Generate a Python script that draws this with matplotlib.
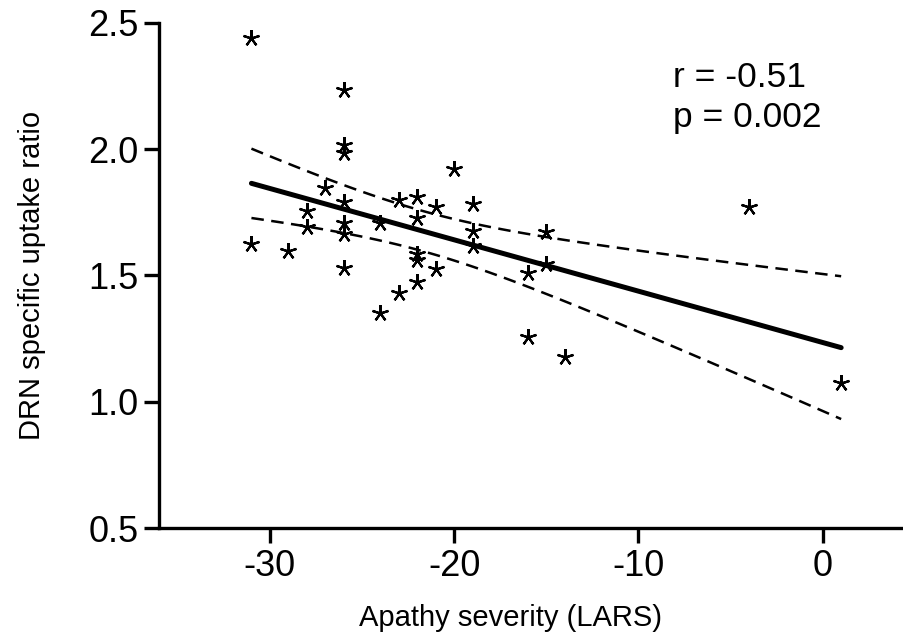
import numpy as np
import matplotlib
matplotlib.use("Agg")
import matplotlib.pyplot as plt

# LARS apathy score vs DRN specific uptake ratio
lars = [-31, -31, -29, -28, -28, -27,
        -26, -26, -26, -26, -26, -26, -26,
        -24, -24, -23, -23,
        -22, -22, -22, -22, -22,
        -21, -21, -20, -19, -19, -19,
        -16, -16, -15, -15, -14, -4, 1]
drn = [2.44, 1.625, 1.597, 1.756, 1.693, 1.845,
       2.234, 2.016, 1.983, 1.79, 1.706, 1.665, 1.53,
       1.706, 1.35, 1.798, 1.432,
       1.812, 1.728, 1.583, 1.561, 1.474,
       1.77, 1.525, 1.92, 1.783, 1.674, 1.618,
       1.508, 1.255, 1.673, 1.546, 1.176, 1.77, 1.073]

stats_lines = ["r = -0.51", "p = 0.002"]
x_ticks = [-30, -20, -10, 0]
y_ticks = [0.5, 1.0, 1.5, 2.0, 2.5]

plt.rcParams["font.family"] = ["Liberation Sans", "DejaVu Sans"]

x = np.array(lars, dtype=float)
y = np.array(drn)

# linear fit with 95% confidence band
n = len(x)
slope, intercept = np.polyfit(x, y, 1)
xs = np.linspace(x.min(), x.max(), 100)
fit = intercept + slope * xs
resid = y - (intercept + slope * x)
s = np.sqrt(np.sum(resid ** 2) / (n - 2))
sxx = np.sum((x - x.mean()) ** 2)
t_crit = 2.035  # t(0.975, df=33)
half = t_crit * s * np.sqrt(1 / n + (xs - x.mean()) ** 2 / sxx)

fig = plt.figure(figsize=(9.04, 6.44), dpi=100)
ax = fig.add_axes([0.1762, 0.1797, 0.8238, 0.7851])

ax.plot(x, y, linestyle="none", marker=(5, 2, 0), markersize=12,
        markeredgewidth=1.6, color="black")
ax.plot(xs, fit, color="black", lw=3.6, solid_capstyle="round")
ax.plot(xs, fit + half, color="black", lw=1.8, dashes=(5, 3))
ax.plot(xs, fit - half, color="black", lw=1.8, dashes=(5, 3))

ax.set_xlim(-36, 4.41)
ax.set_ylim(0.5, 2.5)
ax.set_xticks(x_ticks)
ax.set_yticks(y_ticks)
ax.set_xticklabels([str(v) for v in x_ticks])
ax.set_yticklabels([f"{v:.1f}" for v in y_ticks])

for side in ["top", "right"]:
    ax.spines[side].set_visible(False)
for side in ["left", "bottom"]:
    ax.spines[side].set_linewidth(2.4)
ax.tick_params(direction="out", length=11, width=2.4, labelsize=26, pad=4)

ax.set_xlabel("Apathy severity (LARS)", fontsize=21)
ax.set_ylabel("DRN specific uptake ratio", fontsize=21)
ax.xaxis.set_label_coords(0.471, -0.15)
ax.yaxis.set_label_coords(-0.152, 0.5)

ax.text(-8.1, 2.246, stats_lines[0], fontsize=25.5, ha="left", va="baseline")
ax.text(-8.1, 2.087, stats_lines[1], fontsize=25.5, ha="left", va="baseline")

fig.savefig("out.png", dpi=100)
